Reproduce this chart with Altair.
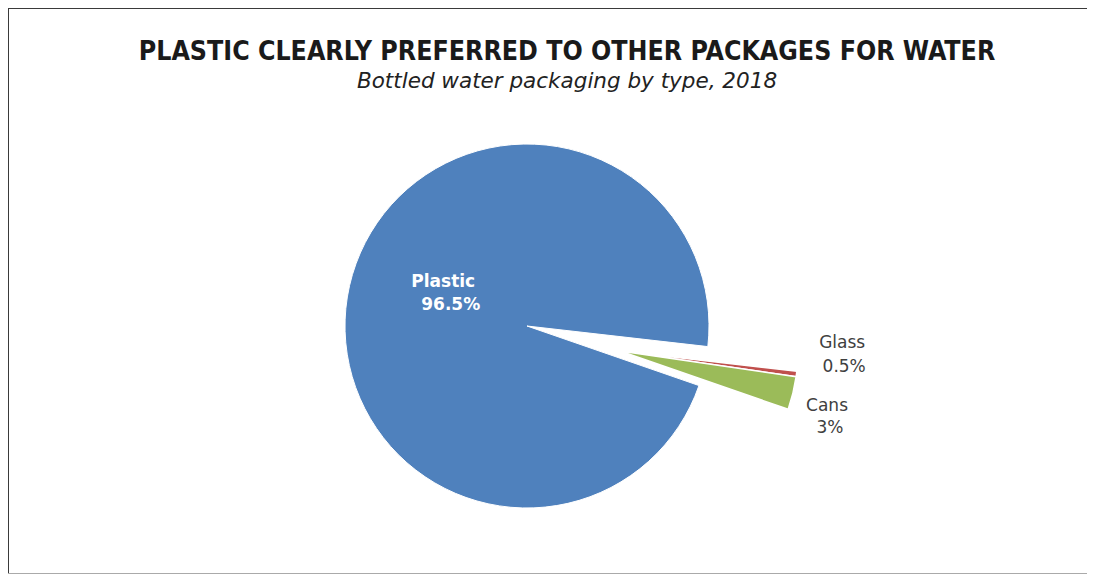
import math
import altair as alt
import pandas as pd

# ---- data ----
categories = ["Glass", "Cans", "Plastic"]
shares = [0.5, 3.0, 96.5]
order = [0, 1, 2]
colors = ["#c0504d", "#9bbb59", "#4f81bd"]

title_text = "PLASTIC CLEARLY PREFERRED TO OTHER PACKAGES FOR WATER"
subtitle_text = "Bottled water packaging by type, 2018"

df = pd.DataFrame({"category": categories, "share": shares, "order": order})

# ---- layout ----
W, H = 1079, 566
CX, CY = 519, 318
R = 182
START = math.radians(96.5)
EXDX, EXDY = 93, 25

base = (
    alt.Chart(df)
    .transform_window(cum="sum(share)", sort=[alt.SortField("order", order="ascending")], frame=[None, 0])
    .transform_calculate(
        start="datum.cum - datum.share",
        ang=f"{START} + 2*PI*(datum.cum - datum.share/2)/100",
        pct="datum.share + '%'",
    )
)

theta_scale = alt.Scale(domain=[0, 100], range=[START, START + 2 * math.pi])
color = alt.Color("category:N", scale=alt.Scale(domain=categories, range=colors), legend=None)

plastic_arc = (
    base.transform_filter("datum.category == 'Plastic'")
    .mark_arc(outerRadius=R, stroke="white", strokeWidth=1)
    .encode(
        theta=alt.Theta("start:Q", scale=theta_scale, stack=None),
        theta2="cum:Q",
        color=color,
        x=alt.value(CX),
        y=alt.value(CY),
    )
)

small_arcs = (
    base.transform_filter("datum.category != 'Plastic'")
    .mark_arc(outerRadius=R - 4, stroke="white", strokeWidth=1.5)
    .encode(
        theta=alt.Theta("start:Q", scale=theta_scale, stack=None),
        theta2="cum:Q",
        color=color,
        x=alt.value(CX + EXDX),
        y=alt.value(CY + EXDY),
    )
)


def label(cat, r, ox, oy, field, dx, dy, col, size, weight="normal", align="center"):
    return (
        base.transform_filter(f"datum.category == '{cat}'")
        .transform_calculate(
            lx=f"{CX + ox} + {r}*sin(datum.ang)",
            ly=f"{CY + oy} - {r}*cos(datum.ang)",
        )
        .mark_text(
            dx=dx, dy=dy, color=col, fontSize=size, fontWeight=weight,
            font="DejaVu Sans", align=align, baseline="middle",
        )
        .encode(
            x=alt.X("lx:Q", scale=None, axis=None),
            y=alt.Y("ly:Q", scale=None, axis=None),
            text=f"{field}:N",
        )
    )


labels = [
    label("Plastic", 90, 0, 0, "category", 4, -24, "white", 17, "bold"),
    label("Plastic", 90, 0, 0, "pct", 41, -1, "white", 17, "bold", "right"),
    label("Glass", 220, EXDX, EXDY, "category", 4, -36, "#404040", 17),
    label("Glass", 220, EXDX, EXDY, "pct", 6, -12, "#404040", 17),
    label("Cans", 210, EXDX, EXDY, "category", 3, 5, "#404040", 17),
    label("Cans", 210, EXDX, EXDY, "pct", 6, 27, "#404040", 17),
]

one = pd.DataFrame({"t": [0]})
title = alt.Chart(one).mark_text(
    text=title_text, font="DejaVu Sans Condensed", fontWeight="bold", fontSize=26.5,
    color="#1a1a1a", align="center", baseline="alphabetic",
).encode(x=alt.value(559), y=alt.value(52))
subtitle = alt.Chart(one).mark_text(
    text=subtitle_text, font="DejaVu Sans", fontStyle="italic", fontSize=21.5,
    color="#222222", align="center", baseline="alphabetic",
).encode(x=alt.value(559), y=alt.value(80))

border_top = alt.Chart(one).mark_rule(color="#3a3a3a", strokeWidth=2).encode(
    x=alt.value(0), x2=alt.value(W), y=alt.value(0))
border_left = alt.Chart(one).mark_rule(color="#3a3a3a", strokeWidth=2).encode(
    x=alt.value(0), y=alt.value(0), y2=alt.value(H))
border_bottom = alt.Chart(one).mark_rule(color="#aaaaaa", strokeWidth=2).encode(
    x=alt.value(0), x2=alt.value(W), y=alt.value(H))

chart = (
    alt.layer(plastic_arc, small_arcs, *labels, title, subtitle,
              border_top, border_left, border_bottom)
    .properties(width=W, height=H, padding=0, autosize=alt.AutoSizeParams(type="none"),
                background="white")
    .configure_view(stroke="transparent", strokeWidth=0)
)

chart.save("out.html", embed_options={"renderer": "svg", "actions": False})
